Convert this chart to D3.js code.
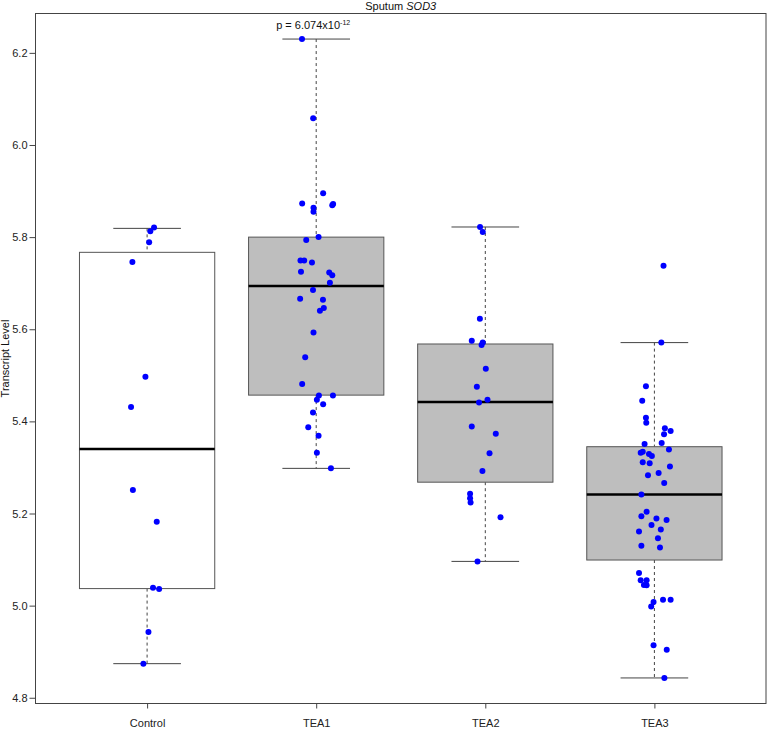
<!DOCTYPE html>
<html><head><meta charset="utf-8">
<script src="https://cdn.jsdelivr.net/npm/d3@7"></script>
<style>body{margin:0;background:#fff}svg{display:block;font-family:"Liberation Sans",Arial,sans-serif}</style>
</head><body><svg id="c" width="767" height="729"></svg>
<script>
const categories = ["Control","TEA1","TEA2","TEA3"];
// box statistics: [lowerWhisker, q1, median, q3, upperWhisker]
const boxControl = [4.874, 5.037, 5.340, 5.767, 5.819];
const boxTEA1    = [5.298, 5.457, 5.694, 5.800, 6.230];
const boxTEA2    = [5.096, 5.268, 5.442, 5.568, 5.822];
const boxTEA3    = [4.843, 5.099, 5.241, 5.345, 5.571];
const boxFills = ["#ffffff","#bebebe","#bebebe","#bebebe"];
// points: [value, horizontal jitter in group units]
const ptsControl = [[5.821,0.041],[5.813,0.019],[5.789,0.012],[5.746,-0.087],[5.497,-0.010],[5.431,-0.095],[5.251,-0.084],[5.182,0.057],[5.039,0.035],[5.036,0.071],[4.943,0.008],[4.874,-0.022]];
const ptsTEA1 = [[6.230,-0.084],[6.058,-0.018],[5.895,0.041],[5.873,-0.083],[5.869,0.095],[5.872,0.100],[5.864,-0.016],[5.855,-0.016],[5.800,0.014],[5.794,-0.059],[5.749,-0.093],[5.749,-0.071],[5.745,-0.025],[5.725,-0.090],[5.723,0.077],[5.717,0.095],[5.701,0.081],[5.685,-0.019],[5.666,-0.095],[5.664,0.040],[5.646,0.045],[5.640,0.022],[5.593,-0.016],[5.539,-0.065],[5.481,-0.083],[5.456,0.016],[5.456,0.099],[5.447,0.004],[5.437,0.041],[5.419,-0.019],[5.387,-0.047],[5.369,0.014],[5.332,0.004],[5.298,0.087]];
const ptsTEA2 = [[5.822,-0.031],[5.811,-0.015],[5.623,-0.032],[5.575,-0.080],[5.571,-0.015],[5.566,-0.022],[5.514,0.003],[5.475,-0.050],[5.447,0.013],[5.441,-0.037],[5.389,-0.080],[5.373,0.062],[5.331,0.025],[5.292,-0.017],[5.243,-0.090],[5.233,-0.090],[5.224,-0.087],[5.192,0.090],[5.096,-0.046]];
const ptsTEA3 = [[5.738,0.054],[5.571,0.041],[5.476,-0.050],[5.445,-0.072],[5.408,-0.050],[5.397,-0.048],[5.385,0.062],[5.379,0.096],[5.372,0.057],[5.351,-0.058],[5.353,0.043],[5.339,0.086],[5.332,-0.081],[5.334,-0.069],[5.329,-0.032],[5.325,-0.015],[5.311,-0.069],[5.309,-0.028],[5.302,0.092],[5.288,0.025],[5.283,-0.038],[5.266,0.058],[5.241,-0.077],[5.204,-0.046],[5.194,-0.077],[5.189,0.012],[5.186,0.072],[5.175,-0.017],[5.165,0.038],[5.161,-0.091],[5.146,0.021],[5.130,-0.077],[5.126,0.033],[5.071,-0.091],[5.055,-0.081],[5.055,-0.046],[5.045,-0.062],[5.044,-0.046],[5.008,-0.005],[4.998,-0.019],[5.013,0.051],[5.013,0.096],[4.914,-0.005],[4.904,0.073],[4.843,0.059]];
const yTicks = [4.8,5.0,5.2,5.4,5.6,5.8,6.0,6.2];
const titleText = "Sputum ", titleGene = "SOD3";
const pBase = "p = 6.074x10", pExp = "-12";
const yLabel = "Transcript Level";

const boxes = [boxControl, boxTEA1, boxTEA2, boxTEA3];
const points = [ptsControl, ptsTEA1, ptsTEA2, ptsTEA3];

const L = 35.5, R = 766, T = 13.5, B = 703.5;
const allV = points.flat().map(d => d[0]).concat(boxes.flat());
const lo = d3.min(allV), hi = d3.max(allV), ext = (hi - lo) * 0.04;
const y = d3.scaleLinear().domain([lo - ext, hi + ext]).range([B, T]);
const x = d3.scaleLinear().domain([0.34, 4.66]).range([L, R]);
const unit = x(1) - x(0);

const svg = d3.select("#c");

// plot frame
svg.append("rect").attr("x", L).attr("y", T).attr("width", R - L).attr("height", B - T)
  .attr("fill", "none").attr("stroke", "#444").attr("stroke-width", 1);

// y axis
const yAxis = d3.axisLeft(y).tickValues(yTicks).tickFormat(d3.format(".1f")).tickSize(6).tickPadding(2);
const ga = svg.append("g").attr("transform", `translate(${L},0)`).call(yAxis);
ga.select(".domain").remove();
ga.selectAll("line").attr("stroke", "#444");
ga.selectAll("text").attr("font-size", 11).attr("fill", "#222").attr("font-family", '"Liberation Sans",Arial,sans-serif');

// x axis
const xAxis = d3.axisBottom(x).tickValues([1,2,3,4]).tickFormat((d) => categories[d - 1]).tickSize(5).tickPadding(11);
const gx = svg.append("g").attr("transform", `translate(0,${B})`).call(xAxis);
gx.select(".domain").remove();
gx.selectAll("line").attr("stroke", "#444");
gx.selectAll("text").attr("font-size", 11).attr("fill", "#222").attr("font-family", '"Liberation Sans",Arial,sans-serif');

// boxes
boxes.forEach((b, i) => {
  const cx = x(i + 1), hw = 0.4 * unit, cw = 0.2 * unit;
  const g = svg.append("g");
  g.append("line").attr("x1", cx).attr("x2", cx).attr("y1", y(b[4])).attr("y2", y(b[3]))
    .attr("stroke", "#444").attr("stroke-dasharray", "3,3");
  g.append("line").attr("x1", cx).attr("x2", cx).attr("y1", y(b[1])).attr("y2", y(b[0]))
    .attr("stroke", "#444").attr("stroke-dasharray", "3,3");
  [b[0], b[4]].forEach(v => g.append("line").attr("x1", cx - cw).attr("x2", cx + cw)
    .attr("y1", y(v)).attr("y2", y(v)).attr("stroke", "#444"));
  g.append("rect").attr("x", cx - hw).attr("width", 2 * hw).attr("y", y(b[3])).attr("height", y(b[1]) - y(b[3]))
    .attr("fill", boxFills[i]).attr("stroke", "#555").attr("stroke-width", 1);
  g.append("line").attr("x1", cx - hw).attr("x2", cx + hw).attr("y1", y(b[2])).attr("y2", y(b[2]))
    .attr("stroke", "#000").attr("stroke-width", 2.5);
});

// points
points.forEach((pts, i) => {
  svg.append("g").selectAll("circle").data(pts).join("circle")
    .attr("cx", d => x(i + 1 + d[1])).attr("cy", d => y(d[0])).attr("r", 3).attr("fill", "#0000ff");
});

// title
const tt = svg.append("text").attr("x", (L + R) / 2).attr("y", 9.5).attr("text-anchor", "middle")
  .attr("font-size", 11).attr("fill", "#111");
tt.append("tspan").text(titleText);
tt.append("tspan").attr("font-style", "italic").text(titleGene);

// p value
const pt = svg.append("text").attr("x", x(2) - 3).attr("y", 28.5).attr("text-anchor", "middle")
  .attr("font-size", 11).attr("fill", "#111");
pt.append("tspan").text(pBase);
pt.append("tspan").attr("font-size", 7).attr("dy", -4).text(pExp);

// y label
svg.append("text").attr("transform", `translate(9,${(T + B) / 2}) rotate(-90)`).attr("text-anchor", "middle")
  .attr("font-size", 11).attr("fill", "#111").text(yLabel);
</script></body></html>
